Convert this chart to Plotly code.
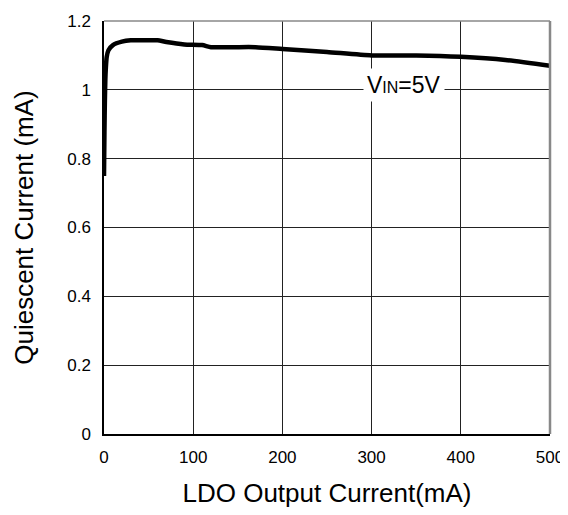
import plotly.graph_objects as go

# LDO output current (mA) vs quiescent current (mA), VIN = 5V
load_ma = [0, 0.5, 1, 1.5, 2, 3, 5, 10, 20, 30, 45, 60, 70, 90, 110, 120, 145, 170, 200, 250, 300, 350, 400, 450, 500]
iq_ma = [0.75, 0.88, 0.97, 1.03, 1.06, 1.095, 1.115, 1.13, 1.14, 1.144, 1.144, 1.144, 1.139, 1.132, 1.13, 1.124, 1.124, 1.124, 1.119, 1.11, 1.1, 1.1, 1.096, 1.087, 1.07]

x_ticks = [0, 100, 200, 300, 400, 500]
y_ticks = [0, 0.2, 0.4, 0.6, 0.8, 1, 1.2]
y_labels = ["0", "0.2", "0.4", "0.6", "0.8", "1", "1.2"]

font_family = "Liberation Sans, Arial, sans-serif"

fig = go.Figure()

fig.add_trace(go.Scatter(
    x=load_ma,
    y=iq_ma,
    mode="lines",
    line=dict(color="black", width=4.5, shape="spline", smoothing=0.6),
    showlegend=False,
    hoverinfo="skip"))

fig.add_annotation(
    x=336, y=1.0, xref="x", yref="y",
    text="V<span style='font-size:16px'>IN</span>=5V",
    showarrow=False,
    font=dict(family=font_family, size=23, color="black"),
    bgcolor="white",
    borderpad=3,
    yshift=5)

# gray frame on top and right like the reference
fig.add_shape(type="line", xref="x domain", yref="y domain", x0=0, x1=1, y0=1, y1=1,
              line=dict(color="#888888", width=1.5))
fig.add_shape(type="line", xref="x domain", yref="y domain", x0=1, x1=1, y0=0, y1=1,
              line=dict(color="#888888", width=2.5))

# page body adds 8px offset, margins compensate for it
fig.update_layout(
    width=568,
    height=515,
    margin=dict(l=96, r=26, t=13, b=89),
    plot_bgcolor="white",
    paper_bgcolor="white",
    font=dict(family=font_family, color="black"),
    xaxis=dict(
        range=[0, 500],
        tickvals=x_ticks,
        showgrid=True, gridcolor="#222222", gridwidth=1,
        showline=True, linecolor="black", linewidth=1.5,
        zeroline=False,
        ticks="outside", ticklen=7, tickcolor="white",
        tickfont=dict(size=17),
        automargin=False,
        title=dict(text="LDO Output Current(mA)", font=dict(size=26), standoff=18)),
    yaxis=dict(
        range=[0, 1.2],
        tickvals=y_ticks,
        ticktext=y_labels,
        showgrid=True, gridcolor="#222222", gridwidth=1,
        showline=True, linecolor="black", linewidth=1.5,
        zeroline=False,
        ticks="outside", ticklen=8, tickcolor="white",
        tickfont=dict(size=17),
        automargin=False,
        title=dict(text="Quiescent Current (mA)", font=dict(size=26), standoff=26)))

fig.write_html("out.html")
